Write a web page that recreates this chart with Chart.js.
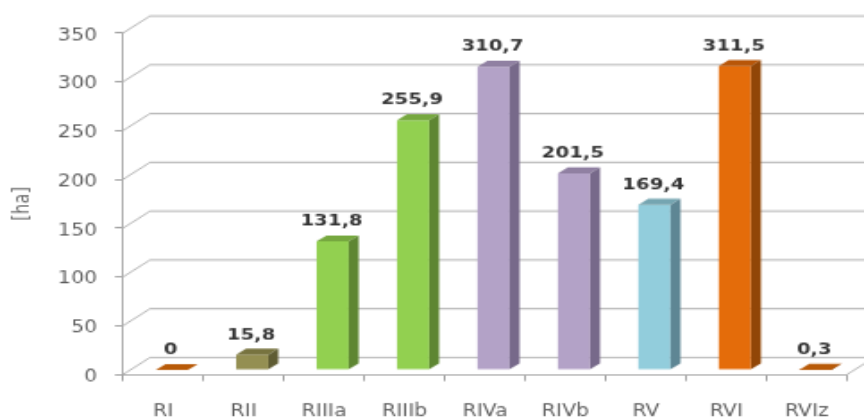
<!DOCTYPE html>
<html>
<head>
<meta charset="utf-8">
<script src="https://cdn.jsdelivr.net/npm/chart.js@4"></script>
<style>
html, body { margin: 0; padding: 0; background: #fff; overflow: hidden; }
</style>
</head>
<body>
<!-- drawn small and stretched by css, the reference is an upscaled, widened image -->
<canvas id="chart" width="483" height="290" style="display:block;width:864px;height:419px"></canvas>
<script>
const categories = ['RI', 'RII', 'RIIIa', 'RIIIb', 'RIVa', 'RIVb', 'RV', 'RVI', 'RVIz'];
const areas = [0, 15.8, 131.8, 255.9, 310.7, 201.5, 169.4, 311.5, 0.3];
const yTicks = [0, 50, 100, 150, 200, 250, 300, 350];

const frontColors = ['#B85A08', '#948F52', '#92D050', '#92D050', '#B3A2C7', '#B3A2C7', '#92CDDC', '#E46C0A', '#B85A08'];
const topColors = ['#B85A08', '#77733F', '#76A83F', '#76A83F', '#9080A2', '#9080A2', '#75A5B1', '#B85608', '#B85A08'];
const sideColors = ['#8A4306', '#5F5C33', '#5E8632', '#5E8632', '#77698A', '#77698A', '#5E8694', '#914607', '#8A4306'];

// reference pixels -> canvas units
const sx = 864 / 483;
const sy = 419 / 290;

const wallX = 27 / sx, wallY = 17 / sy;     // depth of the floor
const barDX = 8.5 / sx, barDY = 4.5 / sy;   // bars stand mid depth
const depthX = 10 / sx, depthY = 6 / sy;    // depth of a bar

const fake3d = {
    id: 'fake3d',
    beforeDatasetsDraw(chart) {
        const ctx = chart.ctx;
        const y = chart.scales.y;
        const { left, right, bottom } = chart.chartArea;
        ctx.save();
        ctx.strokeStyle = '#A8A8A8';
        ctx.lineWidth = 0.85;
        yTicks.forEach(v => {
            const py = y.getPixelForValue(v);
            ctx.beginPath();
            ctx.moveTo(left, py);
            ctx.lineTo(left + wallX, py - wallY);
            ctx.lineTo(right + wallX, py - wallY);
            ctx.stroke();
        });
        ctx.beginPath();
        ctx.moveTo(right, bottom);
        ctx.lineTo(right + wallX, bottom - wallY);
        ctx.stroke();
        ctx.restore();
        ctx.save();
        ctx.translate(barDX, -barDY);
    },
    afterDatasetsDraw(chart) {
        const ctx = chart.ctx;
        const y = chart.scales.y;
        const bars = chart.getDatasetMeta(0).data;
        bars.forEach((bar, i) => {
            const l = bar.x - bar.width / 2, r = bar.x + bar.width / 2;
            ctx.fillStyle = topColors[i];
            ctx.beginPath();
            ctx.moveTo(l, bar.y);
            ctx.lineTo(l + depthX, bar.y - depthY);
            ctx.lineTo(r + depthX, bar.y - depthY);
            ctx.lineTo(r, bar.y);
            ctx.closePath();
            ctx.fill();
            ctx.fillStyle = sideColors[i];
            ctx.beginPath();
            ctx.moveTo(r, bar.y);
            ctx.lineTo(r + depthX, bar.y - depthY);
            ctx.lineTo(r + depthX, bar.base - depthY);
            ctx.lineTo(r, bar.base);
            ctx.closePath();
            ctx.fill();
        });
        ctx.restore();

        ctx.save();
        ctx.font = 'bold 11px "DejaVu Sans"';
        ctx.fillStyle = '#333';
        ctx.textAlign = 'center';
        ctx.textBaseline = 'alphabetic';
        bars.forEach((bar, i) => {
            const label = String(areas[i]).replace('.', ',');
            ctx.fillText(label, bar.x + barDX - 0.6, bar.y - 14);
        });

        // y labels by hand, native ones sit about 2px too high after the stretch
        ctx.font = '11.5px "DejaVu Sans"';
        ctx.fillStyle = '#5F5F5F';
        ctx.textAlign = 'right';
        ctx.textBaseline = 'middle';
        y.ticks.forEach(t => {
            ctx.fillText(String(t.value), chart.chartArea.left - 14.5, y.getPixelForValue(t.value) + 1.7);
        });
        ctx.restore();
    }
};

new Chart(document.getElementById('chart'), {
    type: 'bar',
    data: {
        labels: categories,
        datasets: [{
            data: areas,
            backgroundColor: frontColors,
            borderWidth: 0,
            barPercentage: 1,
            categoryPercentage: 0.4,
            clip: false
        }]
    },
    options: {
        responsive: false,
        animation: false,
        layout: {
            padding: { top: 33 / sy, right: 17 / sx, bottom: 0, left: 0 }
        },
        plugins: {
            legend: { display: false },
            tooltip: { enabled: false }
        },
        scales: {
            x: {
                afterFit(s) { s.height = 44.5 / sy; },
                grid: { drawOnChartArea: false, color: '#A0A0A0', tickLength: 4.5 },
                border: { color: '#A0A0A0', width: 0.85 },
                ticks: {
                    color: '#5F5F5F',
                    font: { family: '"DejaVu Sans"', size: 11.5 },
                    padding: 14.5,
                    maxRotation: 0,
                    autoSkip: false
                }
            },
            y: {
                min: 0,
                max: 350,
                afterFit(s) { s.width = 123 / sx; },
                afterBuildTicks(s) { s.ticks = yTicks.map(v => ({ value: v })); },
                grid: { drawOnChartArea: false, color: '#A0A0A0', tickLength: 4.5 },
                border: { color: '#A0A0A0', width: 0.85 },
                title: {
                    display: true,
                    text: '[ha]',
                    color: '#666',
                    font: { family: '"DejaVu Sans"', size: 11.5 },
                    padding: { top: 6, bottom: 0 }
                },
                ticks: { display: false }
            }
        }
    },
    plugins: [fake3d]
});
</script>
</body>
</html>
